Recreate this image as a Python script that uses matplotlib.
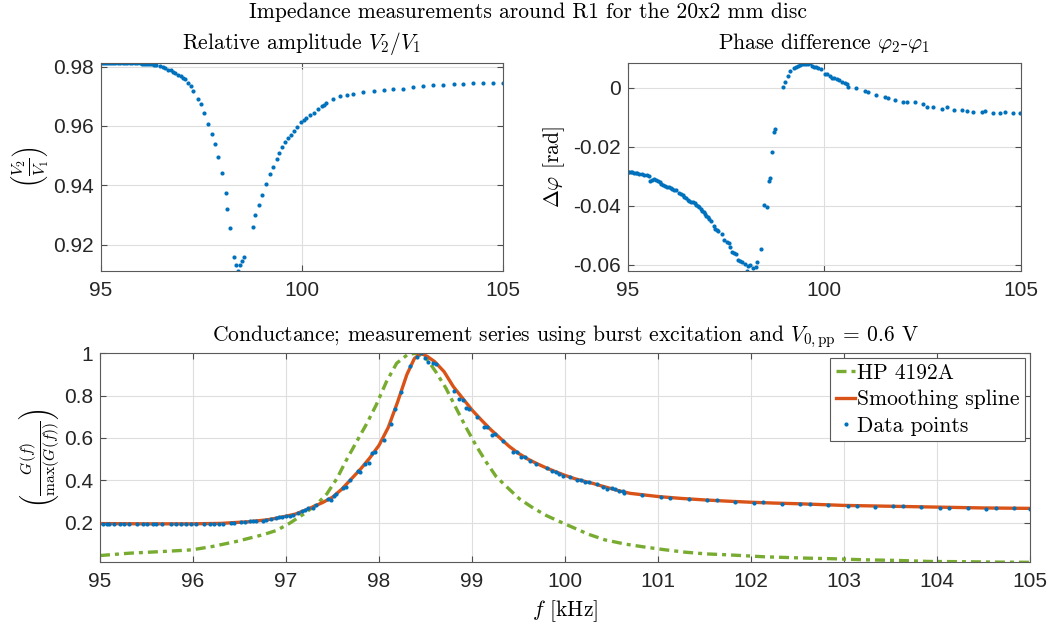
import matplotlib
matplotlib.use("Agg")
import matplotlib.pyplot as plt
from matplotlib.ticker import FuncFormatter

# MATLAB-ish look: CM text for titles/labels, Helvetica-like tick labels
plt.rcParams['mathtext.fontset'] = 'cm'
plt.rcParams['axes.unicode_minus'] = False
plt.rcParams['font.family'] = ['Liberation Sans', 'DejaVu Sans']
TFONT = 'cmr10'
TSIZE = 15.5

BLUE = '#0072BD'
ORANGE = '#D95319'
GREEN = '#77AC30'

# relative amplitude V2/V1  (freq kHz, value)
amp_pts = [
    (95.00, 0.9811), (95.05, 0.9812), (95.10, 0.9812), (95.15, 0.9813), (95.20, 0.9812),
    (95.25, 0.9813), (95.30, 0.9813), (95.35, 0.9812), (95.42, 0.9813), (95.48, 0.9812),
    (95.54, 0.9813), (95.60, 0.9812), (95.66, 0.9812), (95.72, 0.9812), (95.78, 0.9811),
    (95.84, 0.9812), (95.90, 0.9811), (95.96, 0.9811), (96.02, 0.9810), (96.08, 0.9810),
    (96.13, 0.9809), (96.17, 0.9809), (96.22, 0.9808), (96.27, 0.9807), (96.32, 0.9806),
    (96.38, 0.9805), (96.46, 0.9801), (96.54, 0.9798), (96.60, 0.9795), (96.67, 0.9790),
    (96.73, 0.9787), (96.79, 0.9782), (96.85, 0.9778), (96.92, 0.9773), (97.00, 0.9768),
    (97.05, 0.9762), (97.10, 0.9757), (97.16, 0.9743), (97.25, 0.9734), (97.30, 0.9718),
    (97.41, 0.9690), (97.49, 0.9673), (97.57, 0.9645), (97.66, 0.9608), (97.76, 0.9573),
    (97.84, 0.9539), (97.92, 0.9495), (98.01, 0.9441), (98.10, 0.9376), (98.14, 0.9321),
    (98.22, 0.9256), (98.31, 0.9160), (98.37, 0.9132), (98.42, 0.9113), (98.46, 0.9131),
    (98.50, 0.9147), (98.57, 0.9160), (98.78, 0.9260), (98.83, 0.9300), (98.93, 0.9334),
    (99.01, 0.9368), (99.11, 0.9406), (99.20, 0.9437), (99.29, 0.9463), (99.38, 0.9488),
    (99.44, 0.9509), (99.51, 0.9528), (99.58, 0.9545), (99.66, 0.9560), (99.72, 0.9570),
    (99.80, 0.9582), (99.88, 0.9598), (99.98, 0.9614), (100.05, 0.9619), (100.10, 0.9626),
    (100.20, 0.9638), (100.30, 0.9644), (100.41, 0.9657), (100.49, 0.9666), (100.55, 0.9670),
    (100.60, 0.9678), (100.78, 0.9691), (100.95, 0.9700), (101.11, 0.9705), (101.28, 0.9709),
    (101.53, 0.9713), (101.78, 0.9719), (102.03, 0.9722), (102.27, 0.9726), (102.52, 0.9726),
    (102.77, 0.9731), (103.02, 0.9735), (103.27, 0.9738), (103.52, 0.9737), (103.77, 0.9740),
    (104.01, 0.9742), (104.26, 0.9743), (104.51, 0.9744), (104.76, 0.9744), (105.00, 0.9746),
]

# phase difference phi2 - phi1 [rad]
phase_pts = [
    (95.00, -0.0285), (95.04, -0.0286), (95.08, -0.0286), (95.11, -0.0286), (95.16, -0.0288),
    (95.20, -0.0288), (95.24, -0.0289), (95.30, -0.0291), (95.36, -0.0293), (95.42, -0.0295),
    (95.49, -0.0297), (95.53, -0.0300), (95.57, -0.0315), (95.62, -0.0314), (95.68, -0.0309),
    (95.72, -0.0312), (95.76, -0.0315), (95.81, -0.0320), (95.86, -0.0325), (95.90, -0.0329),
    (95.94, -0.0332), (95.99, -0.0336), (96.04, -0.0338), (96.09, -0.0340), (96.14, -0.0342),
    (96.19, -0.0345), (96.24, -0.0347), (96.31, -0.0357), (96.36, -0.0361), (96.40, -0.0365),
    (96.44, -0.0370), (96.48, -0.0374), (96.53, -0.0379), (96.57, -0.0383), (96.61, -0.0386),
    (96.65, -0.0388), (96.70, -0.0392), (96.74, -0.0396), (96.78, -0.0400), (96.82, -0.0404),
    (96.86, -0.0411), (96.89, -0.0417), (96.93, -0.0423), (96.97, -0.0428), (97.00, -0.0434),
    (97.04, -0.0439), (97.08, -0.0446), (97.12, -0.0453), (97.20, -0.0470), (97.23, -0.0478),
    (97.27, -0.0482), (97.31, -0.0486), (97.40, -0.0495), (97.44, -0.0518), (97.52, -0.0522),
    (97.57, -0.0527), (97.61, -0.0539), (97.65, -0.0556), (97.70, -0.0560), (97.75, -0.0565),
    (97.80, -0.0584), (97.86, -0.0587), (97.91, -0.0590), (97.99, -0.0599), (98.03, -0.0621),
    (98.07, -0.0605), (98.10, -0.0601), (98.19, -0.0613), (98.26, -0.0610), (98.30, -0.0590),
    (98.38, -0.0546), (98.46, -0.0396), (98.54, -0.0405), (98.59, -0.0315), (98.63, -0.0306),
    (98.67, -0.0216), (98.72, -0.0151), (98.76, -0.0141), (98.96, 0.0003), (99.01, 0.0022),
    (99.07, 0.0041), (99.14, 0.0057), (99.22, 0.0069), (99.27, 0.0073), (99.33, 0.0076),
    (99.38, 0.0078), (99.44, 0.0080), (99.49, 0.0080), (99.54, 0.0082), (99.60, 0.0081),
    (99.65, 0.0085), (99.70, 0.0075), (99.73, 0.0071), (99.78, 0.0071), (99.84, 0.0069),
    (99.93, 0.0063), (100.02, 0.0048), (100.08, 0.0046), (100.16, 0.0042), (100.19, 0.0034),
    (100.25, 0.0033), (100.32, 0.0030), (100.38, 0.0027), (100.45, 0.0021), (100.52, 0.0017),
    (100.57, 0.0014), (100.61, 0.0002), (100.81, -0.0001), (101.04, -0.0011), (101.12, -0.0012),
    (101.32, -0.0024), (101.55, -0.0032), (101.62, -0.0035), (101.80, -0.0041), (102.01, -0.0049),
    (102.10, -0.0049), (102.31, -0.0049), (102.51, -0.0056), (102.61, -0.0063), (102.78, -0.0063),
    (102.99, -0.0071), (103.12, -0.0063), (103.30, -0.0074), (103.50, -0.0074), (103.63, -0.0079),
    (103.79, -0.0080), (104.01, -0.0080), (104.09, -0.0079), (104.30, -0.0085), (104.47, -0.0086),
    (104.60, -0.0080), (104.80, -0.0086), (104.98, -0.0085),
]

# normalised conductance, measured points
cond_pts = [
    (95.03, 0.194), (95.07, 0.194), (95.10, 0.194), (95.15, 0.193), (95.21, 0.193),
    (95.26, 0.193), (95.31, 0.193), (95.40, 0.193), (95.46, 0.192), (95.51, 0.192),
    (95.57, 0.192), (95.60, 0.193), (95.67, 0.193), (95.76, 0.193), (95.82, 0.193),
    (95.87, 0.193), (95.92, 0.193), (95.98, 0.193), (96.03, 0.193), (96.12, 0.193),
    (96.18, 0.194), (96.23, 0.194), (96.28, 0.194), (96.32, 0.195), (96.41, 0.197),
    (96.44, 0.199), (96.52, 0.203), (96.56, 0.201), (96.61, 0.205), (96.64, 0.207),
    (96.68, 0.209), (96.75, 0.209), (96.78, 0.212), (96.84, 0.217), (96.89, 0.221),
    (96.93, 0.226), (96.96, 0.228), (97.00, 0.230), (97.04, 0.232), (97.07, 0.236),
    (97.13, 0.246), (97.17, 0.255), (97.20, 0.259), (97.24, 0.271), (97.29, 0.268),
    (97.32, 0.284), (97.45, 0.312), (97.48, 0.307), (97.52, 0.327), (97.54, 0.337),
    (97.61, 0.365), (97.64, 0.368), (97.69, 0.402), (97.77, 0.444), (97.80, 0.441),
    (97.85, 0.479), (97.89, 0.480), (97.93, 0.528), (97.96, 0.532), (98.05, 0.591),
    (98.13, 0.666), (98.17, 0.736), (98.24, 0.816), (98.33, 0.940), (98.41, 0.981),
    (98.45, 1.000), (98.49, 0.979), (98.53, 0.960), (98.58, 0.953), (98.61, 0.950),
    (98.81, 0.823), (98.86, 0.784), (98.90, 0.779), (98.94, 0.740), (98.97, 0.737),
    (99.05, 0.698), (99.13, 0.653), (99.16, 0.653), (99.21, 0.614), (99.25, 0.617),
    (99.33, 0.587), (99.44, 0.535), (99.48, 0.532), (99.53, 0.512), (99.57, 0.508),
    (99.62, 0.491), (99.69, 0.477), (99.81, 0.457), (99.86, 0.446), (99.90, 0.438),
    (99.94, 0.430), (99.98, 0.422), (100.05, 0.414), (100.13, 0.402), (100.17, 0.402),
    (100.22, 0.391), (100.26, 0.391), (100.34, 0.381), (100.41, 0.370), (100.45, 0.359),
    (100.50, 0.361), (100.54, 0.359), (100.58, 0.351), (100.62, 0.351), (100.63, 0.339),
    (100.83, 0.332), (101.03, 0.320), (101.13, 0.315), (101.33, 0.311), (101.53, 0.306),
    (101.63, 0.306), (101.83, 0.299), (102.03, 0.294), (102.13, 0.296), (102.33, 0.288),
    (102.53, 0.288), (102.63, 0.288), (102.83, 0.284), (103.04, 0.280), (103.14, 0.280),
    (103.33, 0.274), (103.53, 0.277), (103.63, 0.276), (103.83, 0.274), (104.03, 0.271),
    (104.13, 0.271), (104.33, 0.271), (104.53, 0.266), (104.63, 0.268), (104.83, 0.268),
    (105.00, 0.266),
]

# smoothing spline through the conductance points
spline_pts = [
    (95.00, 0.195), (95.50, 0.194), (96.00, 0.194), (96.30, 0.196), (96.60, 0.204),
    (96.80, 0.213), (96.90, 0.221), (97.00, 0.230), (97.10, 0.240), (97.20, 0.257),
    (97.30, 0.276), (97.40, 0.296), (97.50, 0.320), (97.60, 0.358), (97.70, 0.405),
    (97.80, 0.452), (97.90, 0.505), (98.00, 0.565), (98.10, 0.650), (98.20, 0.770),
    (98.30, 0.900), (98.38, 0.975), (98.45, 1.000), (98.52, 0.985), (98.60, 0.960),
    (98.70, 0.913), (98.80, 0.842), (98.90, 0.787), (99.00, 0.732), (99.10, 0.685),
    (99.20, 0.640), (99.30, 0.600), (99.40, 0.560), (99.50, 0.527), (99.60, 0.500),
    (99.70, 0.478), (99.80, 0.458), (99.90, 0.440), (100.00, 0.423), (100.10, 0.408),
    (100.20, 0.396), (100.30, 0.385), (100.40, 0.372), (100.50, 0.360), (100.60, 0.348),
    (100.70, 0.338), (100.80, 0.333), (101.00, 0.323), (101.25, 0.314), (101.50, 0.307),
    (101.75, 0.301), (102.00, 0.296), (102.25, 0.292), (102.50, 0.289), (102.75, 0.285),
    (103.00, 0.281), (103.50, 0.277), (104.00, 0.273), (104.50, 0.269), (105.00, 0.267),
]

# HP 4192A impedance analyser reference
hp_pts = [
    (95.00, 0.044), (95.31, 0.055), (95.67, 0.063), (95.99, 0.071), (96.21, 0.087),
    (96.46, 0.110), (96.75, 0.142), (96.90, 0.163), (97.04, 0.197), (97.19, 0.240),
    (97.33, 0.286), (97.44, 0.336), (97.55, 0.410), (97.65, 0.496), (97.76, 0.583),
    (97.87, 0.669), (97.97, 0.756), (98.08, 0.866), (98.19, 0.953), (98.31, 0.995),
    (98.40, 1.000), (98.51, 0.976), (98.61, 0.913), (98.72, 0.835), (98.83, 0.740),
    (98.94, 0.646), (99.05, 0.559), (99.16, 0.481), (99.26, 0.417), (99.37, 0.370),
    (99.51, 0.312), (99.66, 0.268), (99.80, 0.233), (99.94, 0.205), (100.09, 0.176),
    (100.25, 0.145), (100.43, 0.118), (100.65, 0.098), (100.86, 0.084), (101.08, 0.071),
    (101.29, 0.060), (101.51, 0.052), (101.72, 0.048), (101.94, 0.043), (102.15, 0.038),
    (102.37, 0.035), (102.58, 0.032), (102.87, 0.029), (103.21, 0.024), (103.57, 0.021),
    (103.92, 0.016), (104.28, 0.015), (104.64, 0.013), (105.00, 0.012),
]


def unzip(pts):
    return [p[0] for p in pts], [p[1] for p in pts]


def style_axes(ax):
    ax.grid(True, color='#dedede', lw=0.8)
    ax.set_axisbelow(True)
    ax.tick_params(direction='in', top=True, right=True, length=4, width=0.8,
                   color='#4d4d4d', labelsize=15, labelcolor='#262626')
    ax.tick_params(axis='x', pad=7)
    ax.tick_params(axis='y', pad=5)
    for s in ax.spines.values():
        s.set_color('#5a5a5a')
        s.set_linewidth(0.8)
    ax.yaxis.set_major_formatter(FuncFormatter(lambda v, p: '%g' % round(v, 4)))
    ax.xaxis.set_major_formatter(FuncFormatter(lambda v, p: '%g' % round(v, 4)))


fig = plt.figure(figsize=(10.56, 6.23), dpi=100)
ax1 = fig.add_axes([0.0956, 0.565, 0.3807, 0.3339])
ax2 = fig.add_axes([0.5944, 0.565, 0.3722, 0.3339])
ax3 = fig.add_axes([0.0947, 0.0974, 0.8807, 0.3355])

dot = dict(ls='none', marker='o', ms=3.0, mew=0, color=BLUE)

# top left: amplitude ratio
f, v = unzip(amp_pts)
ax1.plot(f, v, **dot)
ax1.set_xlim(95, 105)
ax1.set_ylim(0.9112, 0.9812)
ax1.set_xticks([95, 100, 105])
ax1.set_yticks([0.92, 0.94, 0.96, 0.98])
style_axes(ax1)
ax1.set_title(r'Relative amplitude $V_2/V_1$', fontfamily=TFONT, fontsize=TSIZE, pad=10)
ax1.set_ylabel(r'$\left(\frac{V_2}{V_1}\right)$', fontsize=17)
ax1.yaxis.set_label_coords(-0.127, 0.5)

# top right: phase
f, v = unzip(phase_pts)
ax2.plot(f, v, **dot)
ax2.set_xlim(95, 105)
ax2.set_ylim(-0.0622, 0.0085)
ax2.set_xticks([95, 100, 105])
ax2.set_yticks([-0.06, -0.04, -0.02, 0])
style_axes(ax2)
ax2.set_title(r'Phase difference $\varphi_2$-$\varphi_1$', fontfamily=TFONT, fontsize=TSIZE, pad=10)
ax2.set_ylabel(r'$\Delta\varphi$ [rad]', fontfamily=TFONT, fontsize=TSIZE)
ax2.yaxis.set_label_coords(-0.154, 0.5)

# bottom: conductance
f, v = unzip(hp_pts)
ax3.plot(f, v, color=GREEN, lw=2.4, ls=(0, (3.0, 1.5, 1.2, 1.5)), label='HP 4192A')
f, v = unzip(spline_pts)
ax3.plot(f, v, color=ORANGE, lw=2.4, label='Smoothing spline')
f, v = unzip(cond_pts)
ax3.plot(f, v, label='Data points', **dot)
ax3.set_xlim(95, 105)
ax3.set_ylim(0.012, 1.0)
ax3.set_xticks(range(95, 106))
ax3.set_yticks([0.2, 0.4, 0.6, 0.8, 1.0])
style_axes(ax3)
ax3.set_title(r'Conductance; measurement series using burst excitation and $V_{0,\mathrm{pp}}$ = 0.6 V',
              fontfamily=TFONT, fontsize=TSIZE, pad=9)
ax3.set_ylabel(r'$\left(\frac{G(f)}{\max(G(f))}\right)$', fontsize=16)
ax3.yaxis.set_label_coords(-0.041, 0.5)
ax3.set_xlabel(r'$f$ [kHz]', fontfamily=TFONT, fontsize=TSIZE)
ax3.xaxis.set_label_coords(0.5, -0.17)
leg = ax3.legend(loc='upper right', prop={'family': TFONT, 'size': TSIZE}, fancybox=False,
                 framealpha=1, edgecolor='#5a5a5a', handlelength=0.9, handletextpad=0.1,
                 borderpad=0.25, labelspacing=0.32, borderaxespad=0.22)
leg.get_frame().set_linewidth(0.8)

fig.text(0.5, 1 - 12 / 623, 'Impedance measurements around R1 for the 20x2 mm disc',
         ha='center', va='center', fontfamily=TFONT, fontsize=TSIZE)

fig.savefig('out.png', dpi=100)
